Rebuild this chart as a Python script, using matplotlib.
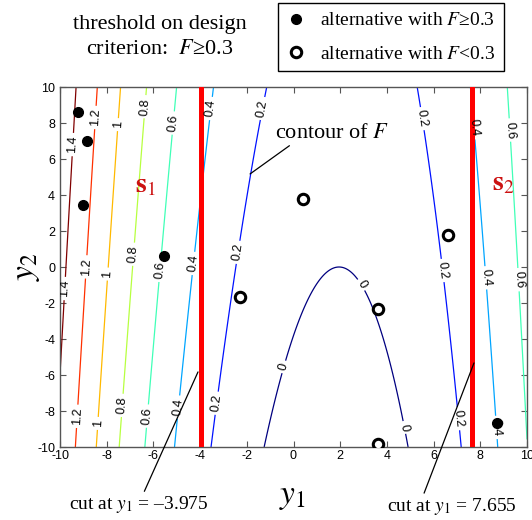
import numpy as np
import matplotlib
matplotlib.use('Agg')
import matplotlib.pyplot as plt
from matplotlib.lines import Line2D

# ---------------- data ----------------
levels = [0, 0.2, 0.4, 0.6, 0.8, 1.0, 1.2, 1.4]
# design criterion F(y1, y2) = ((y1 - c(y2))^2 + b*y2) / K(y2)
center0, center_slope = 1.95, 0.0125
curv_b = 0.95
scale0, scale_slope = 97.7, 0.17

cuts = [-3.975, 7.655]
cut_labels = ['cut at $y_1$ = \u20133.975', 'cut at $y_1$ = 7.655']

good_y1 = [-9.22, -8.86, -9.00, -5.55, 8.70]
good_y2 = [8.63, 7.00, 3.44, 0.61, -8.65]
bad_y1 = [0.42, -2.29, 3.63, 6.63, 3.63]
bad_y2 = [3.76, -1.65, -2.35, 1.78, -9.83]

ticks = list(range(-10, 11, 2))

label_pos = [(-0.28, -5.6), (3.15, -0.8), (4.8, -8.9),
             (-1.3, 8.8), (-2.3, 0.8), (-3.1, -7.6), (5.3, 8.2), (6.35, -0.2), (7.26, -8.4),
             (-3.5, 8.8), (-4.3, 0.2), (-4.8, -7.8), (7.43, 7.7), (8.24, -0.6), (8.84, -8.9),
             (-5.16, 8.0), (-5.6, -0.2), (-6.1, -8.3), (9.13, 7.6), (9.7, -0.7),
             (-6.3, 8.9), (-6.75, 0.7), (-7.2, -7.7),
             (-7.4, 7.9), (-7.86, -0.4), (-8.26, -8.7),
             (-8.4, 8.3), (-8.8, 0.0), (-9.2, -8.3),
             (-9.44, 6.8), (-9.75, -1.2)]

# ---------------- style ----------------
plt.rcParams['font.family'] = ['Liberation Sans', 'DejaVu Sans']
plt.rcParams['mathtext.fontset'] = 'stix'
plt.rcParams['axes.unicode_minus'] = False
SERIF = ['Liberation Serif', 'DejaVu Serif']
W, H = 532, 520

fig = plt.figure(figsize=(W / 100, H / 100), dpi=100)
ax = fig.add_axes([60 / W, 73 / H, 467 / W, 360 / H])

g1 = np.linspace(-10, 10, 401)
g2 = np.linspace(-10, 10, 401)
Y1, Y2 = np.meshgrid(g1, g2)
F = ((Y1 - (center0 + center_slope * Y2)) ** 2 + curv_b * Y2) / (scale0 + scale_slope * Y2)

cs = ax.contour(Y1, Y2, F, levels=levels, cmap='jet', vmin=0, vmax=1.4,
                linewidths=0.9, zorder=2)
ax.clabel(cs, levels, fontsize=9, inline=True, inline_spacing=3,
          manual=label_pos, fmt='%g', colors='k')

for c in cuts:
    ax.axvline(c, color='#ff0000', lw=3.6, zorder=3)

ax.plot(good_y1, good_y2, ls='none', marker='o', ms=7, mfc='k', mec='k', zorder=5)
ax.plot(bad_y1, bad_y2, ls='none', marker='o', ms=7.5, mfc='w', mec='k', mew=2.2, zorder=5)

ax.set_xlim(-10, 10)
ax.set_ylim(-10, 10)
ax.set_xticks(ticks)
ax.set_yticks(ticks)
ax.tick_params(direction='in', top=True, right=True, length=4, width=0.8,
               labelsize=9, color='#555555')
ax.tick_params(axis='x', pad=2.5)
ax.tick_params(axis='y', pad=3.5)
for s in ax.spines.values():
    s.set_color('#555555')
    s.set_linewidth(1.0)

# region labels
red_txt = '#cc1111'
ax.text(-6.34, 4.53, r'$\mathbf{s}_{1}$', color=red_txt, fontsize=20,
        ha='center', va='center', zorder=6)
ax.text(8.99, 4.64, r'$\mathbf{s}_{2}$', color=red_txt, fontsize=20,
        ha='center', va='center', zorder=6)

# contour annotation
ax.annotate('contour of $F$', xy=(-1.86, 5.17), xytext=(-0.79, 7.17),
            textcoords='data', ha='left', va='baseline', fontsize=16, family=SERIF,
            arrowprops=dict(arrowstyle='-', color='k', lw=0.9, shrinkA=0, shrinkB=0,
                            relpos=(0.16, 0.0)), zorder=6)

# cut annotations
ax.annotate(cut_labels[0], xy=(-4.09, -5.83), xytext=(-6.62, -13.2),
            textcoords='data', ha='center', va='center', fontsize=14, family=SERIF,
            annotation_clip=False,
            arrowprops=dict(arrowstyle='-', color='k', lw=0.9, shrinkA=0, shrinkB=0,
                            relpos=(0.53, 1.0)))
ax.annotate(cut_labels[1], xy=(7.73, -5.33), xytext=(6.77, -13.3),
            textcoords='data', ha='center', va='center', fontsize=14, family=SERIF,
            annotation_clip=False,
            arrowprops=dict(arrowstyle='-', color='k', lw=0.9, shrinkA=0, shrinkB=0,
                            relpos=(0.28, 1.0)))

# axis labels
fig.text(292 / W, 1 - 496 / H, r'$y_1$', fontsize=24, ha='center', va='center')
fig.text(27 / W, 1 - 267 / H, r'$y_2$', fontsize=24, ha='center', va='center', rotation=90)

# title text
fig.text(160 / W, 1 - 24 / H, 'threshold on design', fontsize=16, family=SERIF,
         ha='center', va='center')
fig.text(160 / W, 1 - 50 / H, 'criterion:  $F$\u22650.3', fontsize=16, family=SERIF,
         ha='center', va='center')

# legend
handles = [Line2D([], [], ls='none', marker='o', ms=7, mfc='k', mec='k'),
           Line2D([], [], ls='none', marker='o', ms=7.5, mfc='w', mec='k', mew=2.2)]
labels = ['alternative with $F$\u22650.3', 'alternative with $F$<0.3']
leg = fig.legend(handles, labels, loc='upper left', bbox_to_anchor=(278 / W, 1 - 3 / H),
                 frameon=True, fancybox=False, edgecolor='k', framealpha=1,
                 prop={'family': SERIF, 'size': 14}, borderpad=0.45, handlelength=1.0,
                 handletextpad=0.7, labelspacing=0.8, borderaxespad=0)
leg.get_frame().set_linewidth(1.0)

fig.savefig('out.png', dpi=100)
